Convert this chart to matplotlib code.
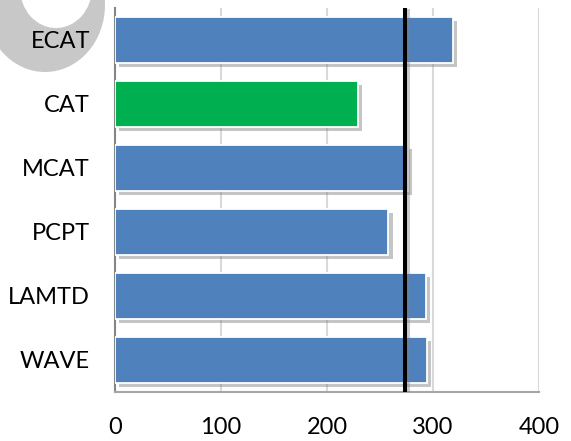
import matplotlib
matplotlib.use("Agg")
import matplotlib.pyplot as plt
import matplotlib.patheffects as pe
from matplotlib.patches import Ellipse

# Scores per method (top to bottom as drawn)
methods = ["ECAT", "CAT", "MCAT", "PCPT", "LAMTD", "WAVE"]
scores = [319, 229, 276, 258, 293, 294]
bar_colors = ["#4F81BD", "#00B050", "#4F81BD", "#4F81BD", "#4F81BD", "#4F81BD"]
reference_level = 274
x_ticks = [0, 100, 200, 300, 400]

plt.rcParams["font.family"] = ["Lato", "DejaVu Sans"]

W, H = 571, 441
fig = plt.figure(figsize=(W / 100, H / 100), dpi=100)


def px_ellipse(cx, cy, w, h, color):
    """Ellipse given in pixel units measured from the top-left corner."""
    return Ellipse((cx / W, 1 - cy / H), w / W, h / H, transform=fig.transFigure,
                   facecolor=color, edgecolor="none", zorder=-5)


# decorative grey ring in the upper-left corner
fig.patches.append(px_ellipse(45, 5, 120, 134, "#C8C8C8"))
fig.patches.append(px_ellipse(56, -12, 72, 80, "white"))

ax = fig.add_axes([115 / W, 1 - 392 / H, (539 - 115) / W, 384 / H])
ax.patch.set_alpha(0)

y = list(range(len(methods)))[::-1]
bars = ax.barh(y, scores, height=0.72, color=bar_colors, edgecolor="white",
               linewidth=1.3, zorder=3)
for b in bars:
    b.set_path_effects([pe.SimplePatchShadow(offset=(3, -3), shadow_rgbFace="#808080",
                                             alpha=0.45), pe.Normal()])

ax.axvline(reference_level, ymin=0.005, ymax=0.995, color="black", linewidth=2.9,
           zorder=4,
           path_effects=[pe.SimpleLineShadow(offset=(2, -1), shadow_color="#808080",
                                             alpha=0.4), pe.Normal()])

ax.set_xlim(0, 400)
ax.set_ylim(-0.5, len(methods) - 0.5)
ax.set_xticks(x_ticks)
ax.set_yticks(y)
ax.set_yticklabels(methods)
ax.tick_params(axis="both", length=0, labelsize=17, colors="black")
ax.tick_params(axis="y", pad=18)
ax.tick_params(axis="x", pad=18)

ax.grid(axis="x", color="#D9D9D9", linewidth=1.5, zorder=0)
ax.set_axisbelow(True)
for side in ["top", "right"]:
    ax.spines[side].set_visible(False)
ax.spines["left"].set_color("#868686")
ax.spines["left"].set_linewidth(1.5)
ax.spines["bottom"].set_color("#A6A6A6")
ax.spines["bottom"].set_linewidth(1.5)

fig.savefig("out.png", dpi=100)
